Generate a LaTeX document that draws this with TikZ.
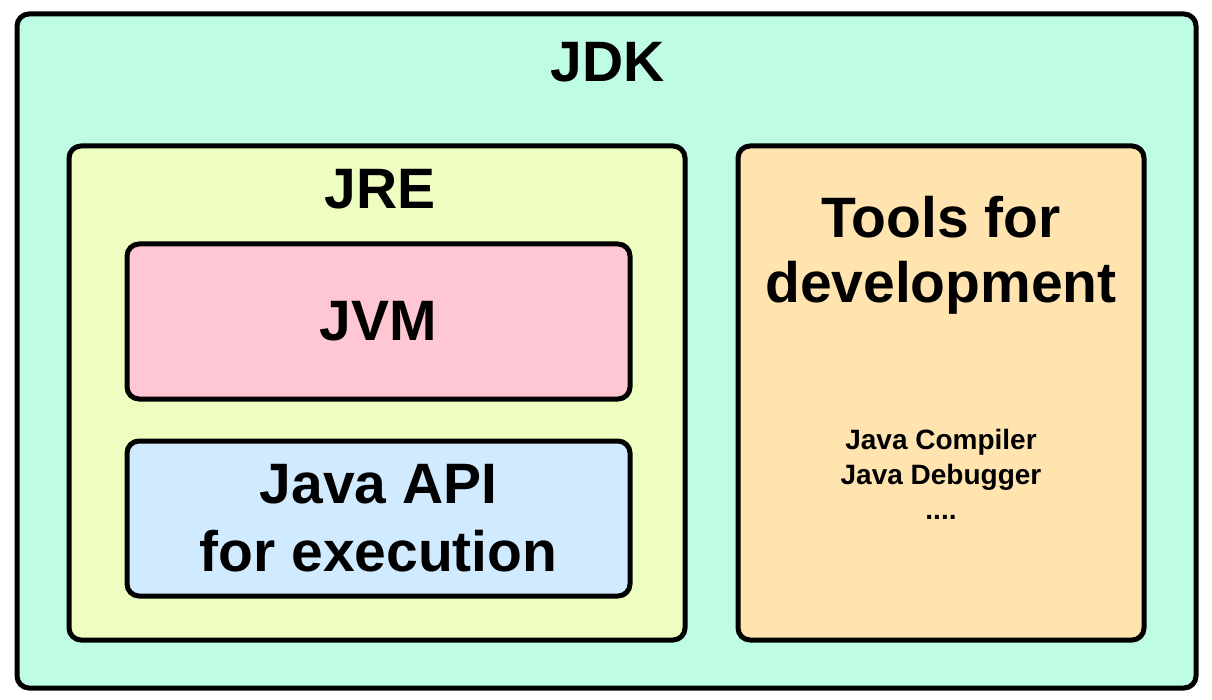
\documentclass[tikz,border=0pt]{standalone}
\usepackage{fontspec}
\setmainfont{Liberation Sans}
\usepackage{tikz}
\usepackage{xcolor}
\usetikzlibrary{positioning}
\definecolor{ink}{HTML}{000000}
\definecolor{jdkbg}{HTML}{BEFDE4}
\definecolor{jrebg}{HTML}{EEFDC0}
\definecolor{jvmbg}{HTML}{FFC7D4}
\definecolor{apibg}{HTML}{D0EBFF}
\definecolor{toolbg}{HTML}{FFE4B0}

\begin{document}
\begin{tikzpicture}[x=1pt,y=-1pt,
    layer/.style={draw=ink,line width=5pt,rounded corners=12pt,inner sep=0pt},
    big/.style={font=\fontsize{57}{68}\selectfont\bfseries,align=center},
    small/.style={font=\fontsize{28}{32}\selectfont\bfseries,anchor=base}]
  \useasboundingbox (0,0) rectangle (1212,700);
  % boxes
  \node[layer,fill=jdkbg,minimum width=1179pt,minimum height=674pt] (jdk) at (606.5,351) {};
  \node[layer,fill=jrebg,minimum width=616pt,minimum height=494pt] (jre) at (377,393) {};
  \node[layer,fill=toolbg,minimum width=406pt,minimum height=494pt] (tools) at (941,393) {};
  \node[layer,fill=jvmbg,minimum width=503pt,minimum height=155pt,big] (jvm) at (378.5,321.5) {JVM};
  \node[layer,fill=apibg,minimum width=503pt,minimum height=155pt,big] (api) at (378.5,518.5)
        {Java API\\for execution};
  % titles
  \node[big,anchor=base] (jdktitle) at (608,82) {JDK};
  \node[big,anchor=base] (jretitle) at (380,209) {JRE};
  \node[big,anchor=base] (toolstitle) at (941,238) {Tools for};
  \node[big,anchor=base] (toolssub) at (941,303) {development};
  % tool list
  \node[small] (compiler) at (941,449) {Java Compiler};
  \node[small] (debugger) at (941,484) {Java Debugger};
  \node[small] (more) at (941,519) {....};
\end{tikzpicture}
\end{document}
